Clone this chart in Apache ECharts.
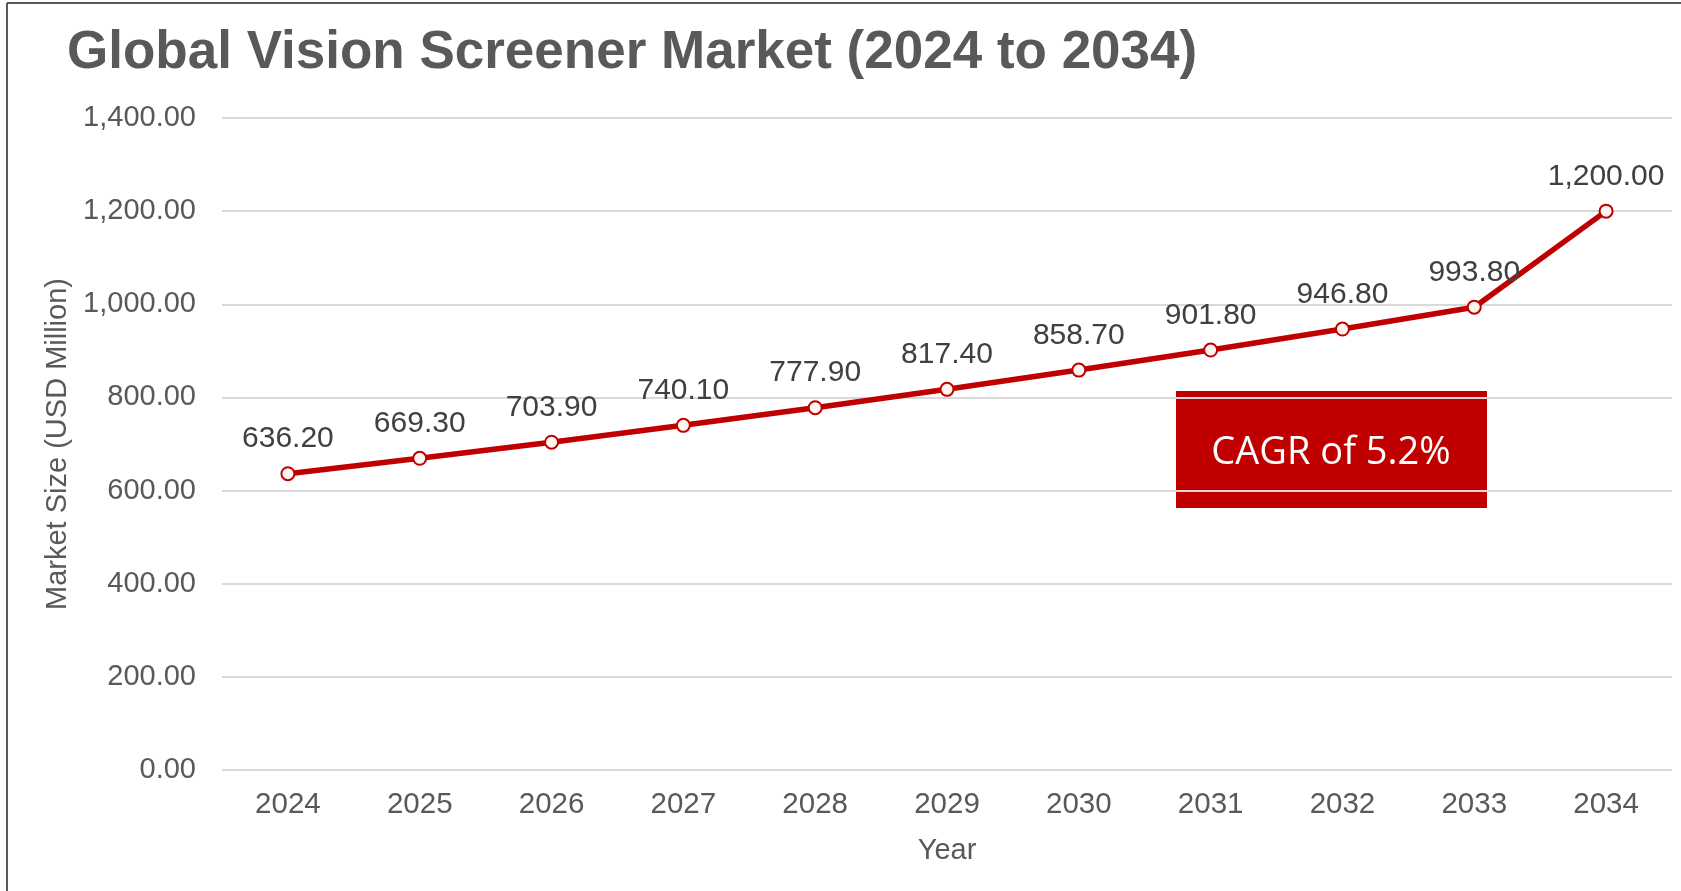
<!DOCTYPE html>
<html>
<head>
<meta charset="utf-8">
<script src="https://cdn.jsdelivr.net/npm/echarts@6/dist/echarts.min.js"></script>
<style>
  html, body { margin: 0; padding: 0; background: #fff; }
  #chart { width: 1681px; height: 891px; }
</style>
</head>
<body>
<div id="chart"></div>
<script>
// chart data
const years = ['2024', '2025', '2026', '2027', '2028', '2029', '2030', '2031', '2032', '2033', '2034'];
const marketSize = [636.2, 669.3, 703.9, 740.1, 777.9, 817.4, 858.7, 901.8, 946.8, 993.8, 1200.0];
const cagrText = 'CAGR of 5.2%';

const fmt = (v) => v.toLocaleString('en-US', { minimumFractionDigits: 2, maximumFractionDigits: 2 });
const font = '"Liberation Sans", Arial, sans-serif';

const chart = echarts.init(document.getElementById('chart'));

chart.setOption({
  animation: false,
  backgroundColor: '#fff',
  title: {
    text: 'Global Vision Screener Market (2024 to 2034)',
    left: 62,
    top: 22,
    textStyle: { fontFamily: font, fontSize: 53, fontWeight: 'bold', color: '#595959' },
  },
  grid: { left: 222, right: 9, top: 118, bottom: 121 },
  xAxis: {
    type: 'category',
    data: years,
    boundaryGap: true,
    name: 'Year',
    nameLocation: 'middle',
    nameGap: 66,
    nameTextStyle: { fontFamily: font, fontSize: 29, color: '#595959' },
    axisLine: { show: false },
    axisTick: { show: false },
    axisLabel: { fontFamily: font, fontSize: 29.5, color: '#595959', margin: 20 },
  },
  yAxis: {
    type: 'value',
    min: 0,
    max: 1400,
    interval: 200,
    name: 'Market Size (USD Million)',
    nameLocation: 'middle',
    nameGap: 150,
    nameRotate: 90,
    nameTextStyle: { fontFamily: font, fontSize: 29, color: '#595959' },
    axisLine: { show: false },
    axisTick: { show: false },
    axisLabel: { fontFamily: font, fontSize: 29, color: '#595959', margin: 26, formatter: fmt },
    splitLine: { lineStyle: { color: '#d9d9d9', width: 2 } },
  },
  series: [
    {
      type: 'line',
      data: marketSize,
      symbol: 'circle',
      symbolSize: 13,
      lineStyle: { color: '#c00000', width: 5.5 },
      itemStyle: { color: '#fdf5f0', borderColor: '#c00000', borderWidth: 2 },
      label: {
        show: true,
        position: 'top',
        distance: 12,
        fontFamily: font,
        fontSize: 30,
        color: '#404040',
        formatter: (p) => fmt(p.value),
      },
    },
  ],
  graphic: [
    { type: 'line', shape: { x1: 7, y1: 3, x2: 1681, y2: 3 }, style: { stroke: '#595959', lineWidth: 2 } },
    { type: 'line', shape: { x1: 7, y1: 3, x2: 7, y2: 891 }, style: { stroke: '#595959', lineWidth: 2 } },
    {
      type: 'group',
      left: 1176,
      top: 391,
      children: [
        { type: 'rect', shape: { x: 0, y: 0, width: 311, height: 117 }, style: { fill: '#c00000' } },
        {
          type: 'text',
          x: 155,
          y: 62,
          style: {
            text: cagrText,
            fill: '#fff',
            font: '38px "Open Sans", sans-serif',
            align: 'center',
            verticalAlign: 'middle',
          },
        },
      ],
    },
  ],
});
</script>
</body>
</html>
